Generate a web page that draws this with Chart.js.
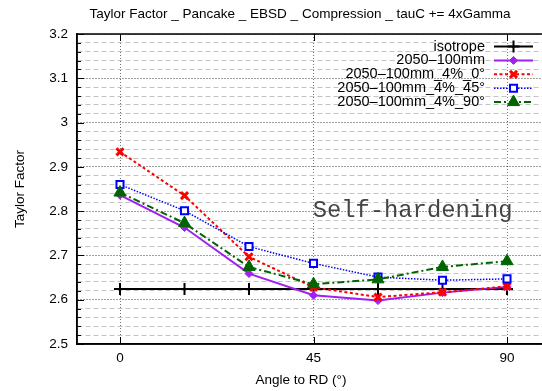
<!DOCTYPE html>
<html>
<head>
<meta charset="utf-8">
<script src="https://cdn.jsdelivr.net/npm/chart.js@4/dist/chart.umd.min.js"></script>
<style>
html,body{margin:0;padding:0;background:#fff;overflow:hidden;width:542px;height:391px;}
canvas{display:block;}
</style>
</head>
<body>
<canvas id="c" width="600" height="391"></canvas>
<script>
// ---- data ----
const angles = [0, 15, 30, 45, 60, 75, 90];
const seriesNames = ['isotrope', '2050–100mm', '2050–100mm_4%_0°', '2050–100mm_4%_45°', '2050–100mm_4%_90°'];
const isotrope = [2.624, 2.624, 2.624, 2.624, 2.624, 2.624, 2.624];
const base100 = [2.836, 2.763, 2.659, 2.610, 2.598, 2.616, 2.629];
const tex0 = [2.934, 2.835, 2.697, 2.628, 2.606, 2.617, 2.630];
const tex45 = [2.860, 2.801, 2.720, 2.682, 2.651, 2.644, 2.647];
const tex90 = [2.842, 2.773, 2.674, 2.635, 2.646, 2.674, 2.687];
const xTicks = [0, 45, 90];
const titleText = 'Taylor Factor _ Pancake _ EBSD _ Compression _ tauC += 4xGamma';
const xTitle = 'Angle to RD (°)';
const yTitle = 'Taylor Factor';
const noteText = 'Self-hardening';

const SANS = '"Liberation Sans", Arial, Helvetica, sans-serif';
Chart.defaults.font.family = SANS;
Chart.defaults.color = '#000';

function pts(ys) { return angles.map((a, i) => ({x: a, y: ys[i]})); }
const styles = [
  {color: '#000000', dash: [], width: 2, ps: 'cross', r: 6, bw: 2, bg: '#000000'},
  {color: '#a020f0', dash: [], width: 2, ps: 'rectRot', r: 4, bw: 1, bg: '#a020f0'},
  {color: '#ff0000', dash: [3, 2.5], width: 2, ps: 'crossRot', r: 5, bw: 3, bg: '#ff0000'},
  {color: '#0000ff', dash: [1.5, 1.5], width: 1.5, ps: 'rect', r: 5, bw: 2, bg: '#ffffff'},
  {color: '#006400', dash: [7, 3, 2, 3], width: 2, ps: 'triangle', r: 7, bw: 1, bg: '#006400'}
];
const allSeries = [isotrope, base100, tex0, tex45, tex90];
const datasets = allSeries.map((ys, i) => ({
  label: seriesNames[i],
  data: pts(ys),
  borderColor: styles[i].color,
  backgroundColor: styles[i].bg,
  borderWidth: styles[i].width,
  borderDash: styles[i].dash,
  pointStyle: styles[i].ps,
  pointRadius: styles[i].r,
  pointBorderWidth: styles[i].bw,
  pointBorderColor: styles[i].color,
  pointBackgroundColor: styles[i].bg,
  tension: 0,
  fill: false,
  order: 5 - i
}));

function isMajor(v) { return Math.abs(v * 10 - Math.round(v * 10)) < 1e-6; }

const framePlugin = {
  id: 'frame',
  afterDraw(chart) {
    const ctx = chart.ctx, a = chart.chartArea;
    const y = chart.scales.y, x = chart.scales.x;
    ctx.save();
    // inward ticks
    ctx.strokeStyle = '#000';
    ctx.lineWidth = 1;
    ctx.setLineDash([]);
    y.ticks.forEach(t => {
      const py = Math.round(y.getPixelForValue(t.value)) + 0.5;
      const len = isMajor(t.value) ? 7 : 4;
      ctx.beginPath(); ctx.moveTo(a.left, py); ctx.lineTo(a.left + len, py); ctx.stroke();
    });
    x.ticks.forEach(t => {
      const px = Math.round(x.getPixelForValue(t.value)) + 0.5;
      ctx.beginPath(); ctx.moveTo(px, a.bottom); ctx.lineTo(px, a.bottom - 7); ctx.stroke();
      ctx.beginPath(); ctx.moveTo(px, a.top); ctx.lineTo(px, a.top + 7); ctx.stroke();
    });
    // box
    ctx.lineWidth = 1.5;
    ctx.strokeRect(a.left, a.top, a.right - a.left, a.bottom - a.top);
    // title and x label
    ctx.fillStyle = '#000';
    ctx.font = '13.5px ' + SANS;
    ctx.textAlign = 'center';
    ctx.textBaseline = 'middle';
    ctx.fillText(titleText, 300, 14);
    ctx.fillText(xTitle, 301, 380);
    // note
    ctx.font = '23.8px "Liberation Mono", "DejaVu Sans Mono", monospace';
    ctx.fillStyle = '#444';
    ctx.textAlign = 'left';
    ctx.textBaseline = 'alphabetic';
    ctx.fillText(noteText, x.getPixelForValue(44.8), y.getPixelForValue(2.787));
    // legend
    ctx.font = '14.5px ' + SANS;
    ctx.textAlign = 'right';
    ctx.textBaseline = 'middle';
    chart.data.datasets.forEach((ds, i) => {
      const ly = 46.5 + 13.9 * i;
      ctx.fillStyle = '#000';
      ctx.fillText(ds.label, 485, ly);
      ctx.save();
      ctx.strokeStyle = ds.borderColor;
      ctx.lineWidth = ds.borderWidth;
      ctx.setLineDash(ds.borderDash);
      ctx.beginPath(); ctx.moveTo(494, ly); ctx.lineTo(533, ly); ctx.stroke();
      ctx.setLineDash([]);
      ctx.fillStyle = ds.pointBackgroundColor;
      ctx.strokeStyle = ds.pointBorderColor;
      ctx.lineWidth = ds.pointBorderWidth;
      if (Chart.helpers && Chart.helpers.drawPoint) {
        Chart.helpers.drawPoint(ctx, {pointStyle: ds.pointStyle, radius: ds.pointRadius, borderWidth: ds.pointBorderWidth, rotation: 0}, 513.5, ly);
      }
      ctx.restore();
    });
    ctx.restore();
  }
};

new Chart(document.getElementById('c'), {
  type: 'line',
  data: {datasets},
  options: {
    responsive: false,
    animation: false,
    devicePixelRatio: 1,
    layout: {padding: {top: 34, right: 50, bottom: 0, left: 0}},
    plugins: {legend: {display: false}, tooltip: {enabled: false}, title: {display: false}},
    scales: {
      x: {
        type: 'linear', min: -10, max: 100,
        afterBuildTicks: s => { s.ticks = xTicks.map(v => ({value: v})); },
        afterFit: s => { s.height = 47; },
        ticks: {padding: 6, font: {size: 13.5}, color: '#000', autoSkip: false, maxRotation: 0},
        grid: {color: 'rgba(0,0,0,0.55)', lineWidth: 1, drawTicks: false, borderDash: [1, 2]},
        border: {display: true, color: '#000', width: 1.5, dash: c => (c.tick ? [1, 2] : [])}
      },
      y: {
        type: 'linear', min: 2.5, max: 3.2,
        afterFit: s => { s.width = 77; },
        ticks: {
          stepSize: 0.02, autoSkip: false, padding: 9, font: {size: 13.5}, color: '#000',
          callback: v => (isMajor(v) ? String(Math.round(v * 10) / 10) : '')
        },
        title: {display: true, text: yTitle, font: {size: 13.5}, color: '#000', padding: {top: 12, bottom: 0}},
        grid: {
          drawTicks: false,
          lineWidth: 1,
          color: c => (c.tick && isMajor(c.tick.value) ? 'rgba(0,0,0,0.75)' : '#c4c4c4'),
          borderDash: c => (c.tick && isMajor(c.tick.value) ? [1, 2] : [5, 3])
        },
        border: {display: true, color: '#000', width: 1.5,
          dash: c => (c.tick ? (isMajor(c.tick.value) ? [1, 2] : [5, 3]) : [])}
      }
    }
  },
  plugins: [framePlugin]
});
</script>
</body>
</html>
